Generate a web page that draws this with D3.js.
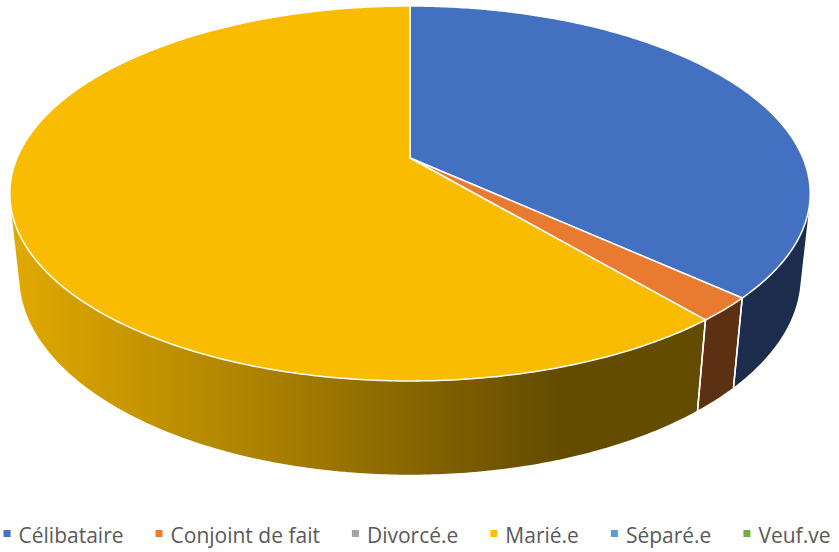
<!DOCTYPE html>
<html>
<head>
<meta charset="utf-8">
<script src="https://cdn.jsdelivr.net/npm/d3@7"></script>
<style>
body { margin: 0; background: #fff; }
svg { display: block; }
</style>
</head>
<body>
<div id="chart"></div>
<script>
var categories = ["Célibataire", "Conjoint de fait", "Divorcé.e", "Marié.e", "Séparé.e", "Veuf.ve"];
var values = [53, 3, 0, 88, 0, 0];
var colors = ["#4472C4", "#ED7D31", "#A5A5A5", "#FFC000", "#5B9BD5", "#70AD47"];

var width = 839, height = 552;

// camera for the 3d pie (fitted by eye)
var cx = 410, cy = 158,
    focal = 1843, dist = 4.69,
    alpha = Math.asin(0.46),
    thick = 0.239;
var sa = Math.sin(alpha), ca = Math.cos(alpha);

function project(x, y, z) {
    var depth = dist - y * ca - z * sa;
    return [cx + focal * x / depth, cy + focal * (y * sa - z * ca) / depth];
}
function rim(a, z) {                    // a: d3 angle, 0 at 12 o'clock, clockwise
    return project(Math.sin(a), -Math.cos(a), z);
}
function shade(c, k) {
    c = d3.rgb(c);
    return d3.rgb(c.r * k, c.g * k, c.b * k).formatHex();
}

var color = d3.scaleOrdinal().domain(categories).range(colors);

var pie = d3.pie().sort(null).value(function (d, i) { return values[i]; });
var arcs = pie(categories).filter(function (d) { return d.endAngle > d.startAngle; });

var svg = d3.select("#chart").append("svg")
    .attr("width", width)
    .attr("height", height);

var defs = svg.append("defs");
categories.forEach(function (c, i) {
    var g = defs.append("linearGradient")
        .attr("id", "wall" + i)
        .attr("gradientUnits", "userSpaceOnUse")
        .attr("x1", 15).attr("x2", 560).attr("y1", 0).attr("y2", 0);
    [[0, 0.88], [0.52, 0.64], [1, 0.39]].forEach(function (s) {
        g.append("stop").attr("offset", s[0]).attr("stop-color", shade(color(c), s[1]));
    });
});

var line = d3.line();
// the outer wall faces the camera only where y > 1/(dist*cos)
var frontLimit = Math.acos(-1 / (dist * ca));
var visFrom = frontLimit, visTo = 2 * Math.PI - frontLimit;

function arcPoints(a0, a1, z) {
    var n = Math.max(2, Math.ceil((a1 - a0) / 0.01));
    return d3.range(n + 1).map(function (k) { return rim(a0 + (a1 - a0) * k / n, z); });
}

// side walls
var walls = svg.append("g");
arcs.forEach(function (d) {
    var a0 = Math.max(d.startAngle, visFrom), a1 = Math.min(d.endAngle, visTo);
    if (a1 <= a0) return;
    var pts = arcPoints(a0, a1, 0).concat(arcPoints(a0, a1, -thick).reverse());
    walls.append("path")
        .attr("d", line(pts) + "Z")
        .attr("fill", "url(#wall" + categories.indexOf(d.data) + ")");
});
// white edges between walls
arcs.forEach(function (d) {
    [d.startAngle, d.endAngle].forEach(function (a) {
        if (a <= visFrom || a >= visTo) return;
        walls.append("path")
            .attr("d", line([rim(a, 0), rim(a, -thick)]))
            .attr("stroke", "#fff")
            .attr("stroke-width", 1.5);
    });
});

// top faces
svg.append("g").selectAll("path")
    .data(arcs)
    .join("path")
    .attr("d", function (d) {
        return line([project(0, 0, 0)].concat(arcPoints(d.startAngle, d.endAngle, 0))) + "Z";
    })
    .attr("fill", function (d) { return shade(color(d.data), 0.98); })
    .attr("stroke", "#fff")
    .attr("stroke-width", 1.5)
    .attr("stroke-linejoin", "round");

// legend
var legend = svg.append("g").attr("transform", "translate(0,543)");
var items = legend.selectAll("g")
    .data(categories)
    .join("g");
items.append("rect")
    .attr("y", -13)
    .attr("width", 7).attr("height", 7)
    .attr("fill", function (d) { return color(d); });
items.append("text")
    .attr("x", 15)
    .style("font-family", "'Open Sans', sans-serif")
    .style("font-size", "21px")
    .attr("fill", "#595959")
    .text(function (d) { return d; });

var xpos = 0, offsets = [];
items.each(function () {
    offsets.push(xpos);
    xpos += 15 + d3.select(this).select("text").node().getComputedTextLength() + 32;
});
var total = xpos - 32, start = 417 - total / 2;
items.attr("transform", function (d, i) { return "translate(" + (start + offsets[i]) + ",0)"; });
</script>
</body>
</html>
